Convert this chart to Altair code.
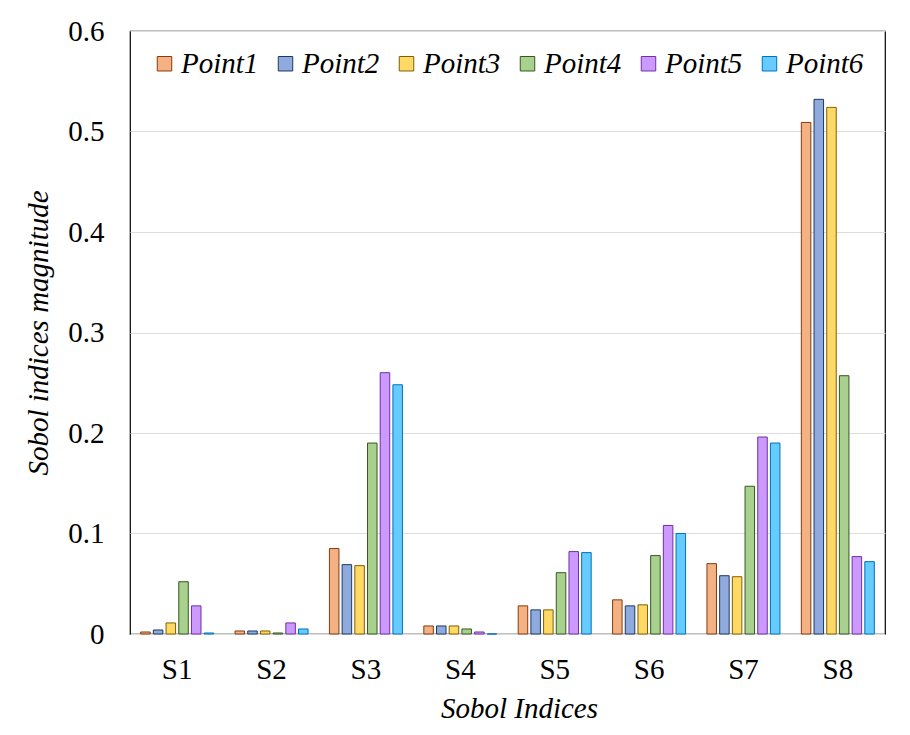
import altair as alt
import pandas as pd

indices = ["S1", "S2", "S3", "S4", "S5", "S6", "S7", "S8"]
series = ["Point1", "Point2", "Point3", "Point4", "Point5", "Point6"]
point1 = [0.002, 0.003, 0.085, 0.008, 0.028, 0.034, 0.070, 0.509]
point2 = [0.004, 0.003, 0.069, 0.008, 0.024, 0.028, 0.058, 0.532]
point3 = [0.011, 0.003, 0.068, 0.008, 0.024, 0.029, 0.057, 0.524]
point4 = [0.052, 0.001, 0.190, 0.005, 0.061, 0.078, 0.147, 0.257]
point5 = [0.028, 0.011, 0.260, 0.002, 0.082, 0.108, 0.196, 0.077]
point6 = [0.001, 0.005, 0.248, 0.000, 0.081, 0.100, 0.190, 0.072]
fills = ["#F4B183", "#8FAADC", "#FFD966", "#A9D18E", "#CC99FF", "#66CCFF"]
strokes = ["#843C0C", "#1F3864", "#7F6000", "#375623", "#7030A0", "#0070C0"]

rows = []
for name, vals in zip(series, [point1, point2, point3, point4, point5, point6]):
    for idx, v in zip(indices, vals):
        rows.append({"index": idx, "series": name, "value": v})
df = pd.DataFrame(rows)

FONT = "Liberation Serif"

def make_legend():
    return alt.Legend(title=None, orient="none", legendX=20, legendY=18,
                      direction="horizontal", columns=6, symbolType="square",
                      symbolSize=210, symbolStrokeWidth=1, labelOffset=2,
                      columnPadding=12, padding=0,
                      labelFontStyle="italic", labelFontSize=29, labelFont=FONT,
                      labelColor="black", symbolOpacity=1)

chart = alt.Chart(df).mark_bar(strokeWidth=1).encode(
    x=alt.X("index:N", sort=indices,
            scale=alt.Scale(paddingInner=0.2265, paddingOuter=0.113),
            axis=alt.Axis(title="Sobol Indices", labelAngle=0, ticks=False, tickSize=0,
                          domain=False, labelPadding=44, labelBaseline="alphabetic",
                          titleX=389, titleY=83, titleBaseline="alphabetic", titleAlign="center",
                          titleFontStyle="italic", titleFontWeight="normal")),
    xOffset=alt.XOffset("series:N", sort=series,
                        scale=alt.Scale(paddingInner=0.25, paddingOuter=0)),
    y=alt.Y("value:Q", scale=alt.Scale(domain=[0, 0.6], nice=False),
            axis=alt.Axis(title="Sobol indices magnitude", values=[0, 0.1, 0.2, 0.3, 0.4, 0.5, 0.6],
                          format=".1~f", ticks=False, tickSize=0, domain=False, labelPadding=26,
                          gridColor="#dddddd", gridWidth=1,
                          titleX=-92, titleY=301.5, titleAngle=270, titleAlign="center",
                          titleBaseline="middle",
                          titleFontStyle="italic", titleFontWeight="normal")),
    fill=alt.Fill("series:N", sort=series, scale=alt.Scale(domain=series, range=fills),
                  legend=make_legend()),
    stroke=alt.Stroke("series:N", sort=series, scale=alt.Scale(domain=series, range=strokes),
                      legend=make_legend()),
).properties(
    width=755, height=603,
    autosize=alt.AutoSizeParams(type="none"),
    padding={"left": 122, "top": 23, "right": 17, "bottom": 90},
).configure_view(
    stroke="black", strokeWidth=1.2
).configure_axis(
    labelFont=FONT, titleFont=FONT, labelFontSize=29, titleFontSize=29,
    labelColor="black", titleColor="black"
).configure_axisX(grid=False)

chart.save("out.html", embed_options={"renderer": "svg", "actions": False})
